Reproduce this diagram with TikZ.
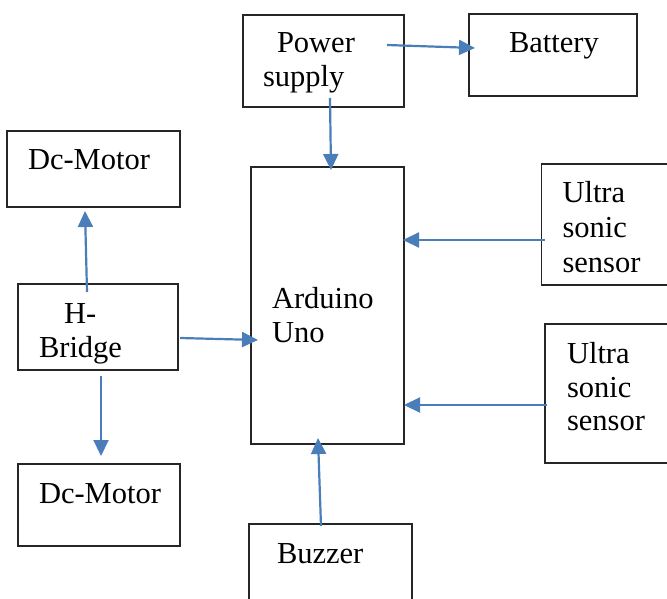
\documentclass[tikz,border=0pt]{standalone}
\usepackage{fontspec}
\setmainfont{Liberation Serif}
\usetikzlibrary{arrows.meta}
\definecolor{arrblue}{HTML}{4A7EBB}
\tikzset{
  box/.style={draw=black!85, line width=1.3pt, rectangle, inner sep=0pt, outer sep=0pt},
  txt/.style={anchor=base west, inner sep=0pt, outer sep=0pt, font=\fontsize{30.5}{36}\selectfont},
  arr/.style={draw=arrblue, line width=2.2pt, -{Triangle[length=16pt,width=15pt]}}
}
\begin{document}
\begin{tikzpicture}[x=1pt,y=-1pt]
\useasboundingbox (0,0) rectangle (667,599);
% boxes
\node[box, minimum width=161pt, minimum height=92pt] (ps) at (323.5,61) {};
\node[box, minimum width=168pt, minimum height=82pt] (bat) at (553,55) {};
\node[box, minimum width=173pt, minimum height=76pt] (dcA) at (93.5,169) {};
\node[box, minimum width=153pt, minimum height=277pt] (ard) at (327.5,305.5) {};
\node[box, minimum width=130.5pt, minimum height=121pt] (usA) at (606.75,224.5) {};
\node[box, minimum width=127pt, minimum height=139pt] (usB) at (608.5,393.5) {};
\node[box, minimum width=160pt, minimum height=86pt] (hb) at (98,327) {};
\node[box, minimum width=162pt, minimum height=82pt] (dcB) at (99,505) {};
\node[box, minimum width=163pt, minimum height=86pt] (buz) at (330.5,567) {};
% texts
\node[txt] (t1) at (277,53) {Power};
\node[txt] (t2) at (263,87) {supply};
\node[txt] (t3) at (509,53) {Battery};
\node[txt] (t4) at (28,170) {Dc-Motor};
\node[txt] (t5) at (272,308) {Arduino};
\node[txt] (t6) at (272,342) {Uno};
\node[txt] (t7) at (562.5,203) {Ultra};
\node[txt] (t8) at (562.5,237) {sonic};
\node[txt] (t9) at (562.5,272) {sensor};
\node[txt] (t10) at (567,363) {Ultra};
\node[txt] (t11) at (567,397) {sonic};
\node[txt] (t12) at (567,430) {sensor};
\node[txt] (t13) at (64,323) {H-};
\node[txt] (t14) at (39,357) {Bridge};
\node[txt] (t15) at (39,503) {Dc-Motor};
\node[txt] (t16) at (277,563) {Buzzer};
% connector ends
\coordinate (psR) at (387,45);   \coordinate (batL) at (475,48);
\coordinate (psB) at (330,98);   \coordinate (ardT) at (331,170);
\coordinate (usAL) at (545,240); \coordinate (ardRA) at (403,240);
\coordinate (usBL) at (547,405); \coordinate (ardRB) at (404,405);
\coordinate (hbR) at (180,338);  \coordinate (ardL) at (258,340);
\coordinate (hbT) at (87,292);   \coordinate (dcAB) at (85,211);
\coordinate (hbB) at (101,376);  \coordinate (dcBT) at (101,456);
\coordinate (buzT) at (321,526); \coordinate (ardB) at (318,438);
% connectors
\draw[arr] (psR) -- (batL);
\draw[arr] (psB) -- (ardT);
\draw[arr] (usAL) -- (ardRA);
\draw[arr] (usBL) -- (ardRB);
\draw[arr] (hbR) -- (ardL);
\draw[arr] (hbT) -- (dcAB);
\draw[arr] (hbB) -- (dcBT);
\draw[arr] (buzT) -- (ardB);
\end{tikzpicture}
\end{document}
